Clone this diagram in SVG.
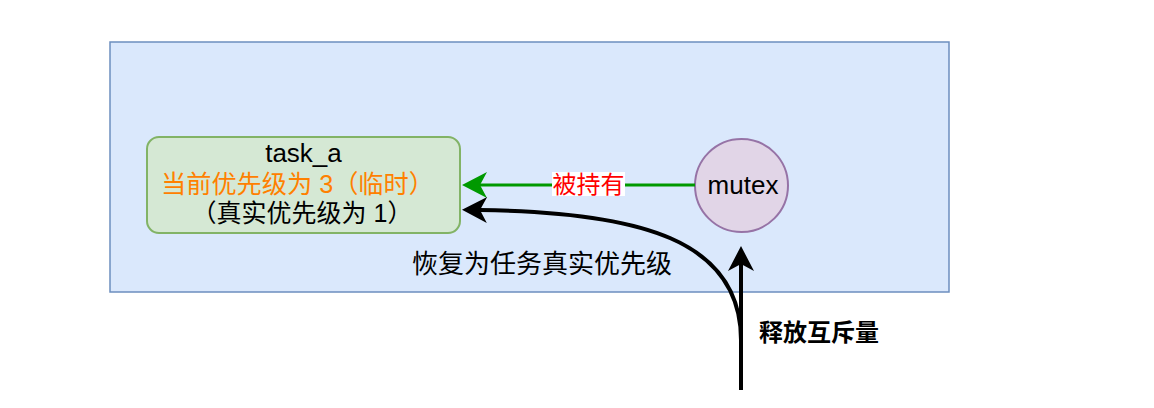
<svg xmlns="http://www.w3.org/2000/svg" width="1154" height="408" viewBox="0 0 1154 408">
<style>
text{font-family:"Liberation Sans","Noto Sans CJK SC",sans-serif;font-size:24px;fill:#000}
.c{text-anchor:middle}
.l{font-size:26px}
</style>
<defs>
<marker id="ag" viewBox="-8 -14 27 28" refX="0" refY="0" markerWidth="27" markerHeight="28" markerUnits="userSpaceOnUse" orient="auto">
<path d="M18,0 L-7,-13 L0,0 L-7,13 Z" fill="#009900"/>
</marker>
<marker id="ab" viewBox="-8 -14 27 28" refX="0" refY="0" markerWidth="27" markerHeight="28" markerUnits="userSpaceOnUse" orient="auto">
<path d="M18,0 L-7,-13 L0,0 L-7,13 Z" fill="#000"/>
</marker>
</defs>
<rect width="1154" height="408" fill="#fff"/>
<g id="container">
<rect x="110" y="42" width="839" height="250" fill="#dae8fc" stroke="#6c8ebf" stroke-width="1.5"/>
</g>
<g id="task_a">
<rect x="147" y="137" width="313" height="96" rx="12" fill="#d5e8d4" stroke="#82b366" stroke-width="2"/>
<text class="c l" x="303.5" y="162">task_a</text>
<text class="c" x="297.5" y="193" style="fill:#ff8000;font-size:25.2px">当前优先级为 3（临时）</text>
<text class="c" x="302" y="222" style="font-size:25px">（真实优先级为 1）</text>
</g>
<g id="mutex">
<circle cx="741.5" cy="185.5" r="46.5" fill="#e1d5e7" stroke="#9673a6" stroke-width="2"/>
<text class="c l" x="743" y="194">mutex</text>
</g>
<g id="connectors">
<path d="M695,185 L480,185" stroke="#009900" stroke-width="3" fill="none" marker-end="url(#ag)"/>
<rect x="552" y="172" width="73" height="24" fill="#fff"/>
<text class="c" x="588.5" y="193" style="fill:#ff0000">被持有</text>
<path d="M741,390 L741,340 C741,240 640,212 480,210" stroke="#000" stroke-width="4" fill="none" marker-end="url(#ab)"/>
<path d="M741,390 L741,264" stroke="#000" stroke-width="4" fill="none" marker-end="url(#ab)"/>
<text class="l" x="412" y="273">恢复为任务真实优先级</text>
<text x="759" y="341" style="font-weight:bold">释放互斥量</text>
</g>
</svg>
